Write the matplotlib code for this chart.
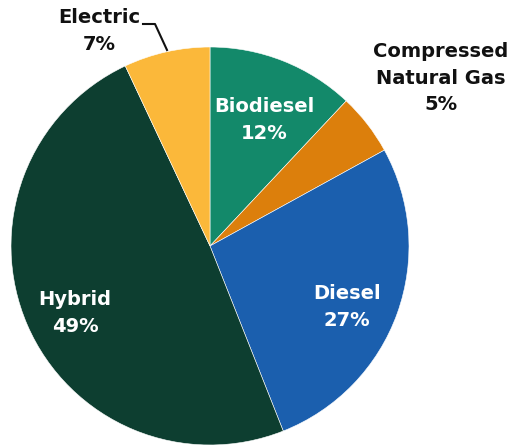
import matplotlib
matplotlib.use("Agg")
import matplotlib.pyplot as plt

# fuel type shares, clockwise from 12 o'clock
fuels = ["Biodiesel", "Compressed\nNatural Gas", "Diesel", "Hybrid", "Electric"]
shares = [12, 5, 27, 49, 7]
colors = ["#13896a", "#dc7f0c", "#1b5fae", "#0d3e30", "#fbb83a"]
text_colors = ["white", "#111111", "white", "white", "#111111"]

# label centres in pixel coords (top-left origin)
label_pos = [(264, 120), (441, 78), (347, 307), (75, 313), (99, 31)]

W, H = 508, 447
fig = plt.figure(figsize=(W / 100, H / 100), dpi=100)
ax = fig.add_axes([0, 0, 1, 1])

ax.pie(shares, colors=colors, startangle=90, counterclock=False,
       center=(210, H - 246), radius=199,
       wedgeprops=dict(edgecolor="white", linewidth=0.4))
ax.set_xlim(0, W)
ax.set_ylim(0, H)
ax.set_aspect("auto")
ax.axis("off")

for name, val, (x, y), tc in zip(fuels, shares, label_pos, text_colors):
    ax.text(x, H - y, f"{name}\n{val}%", ha="center", va="center",
            color=tc, fontsize=14, fontweight="bold", linespacing=1.5)

# leader line for Electric
ax.plot([143, 155, 167], [H - 24, H - 24, H - 50], color="#111111", lw=1.5)

fig.savefig("out.png", dpi=100)
